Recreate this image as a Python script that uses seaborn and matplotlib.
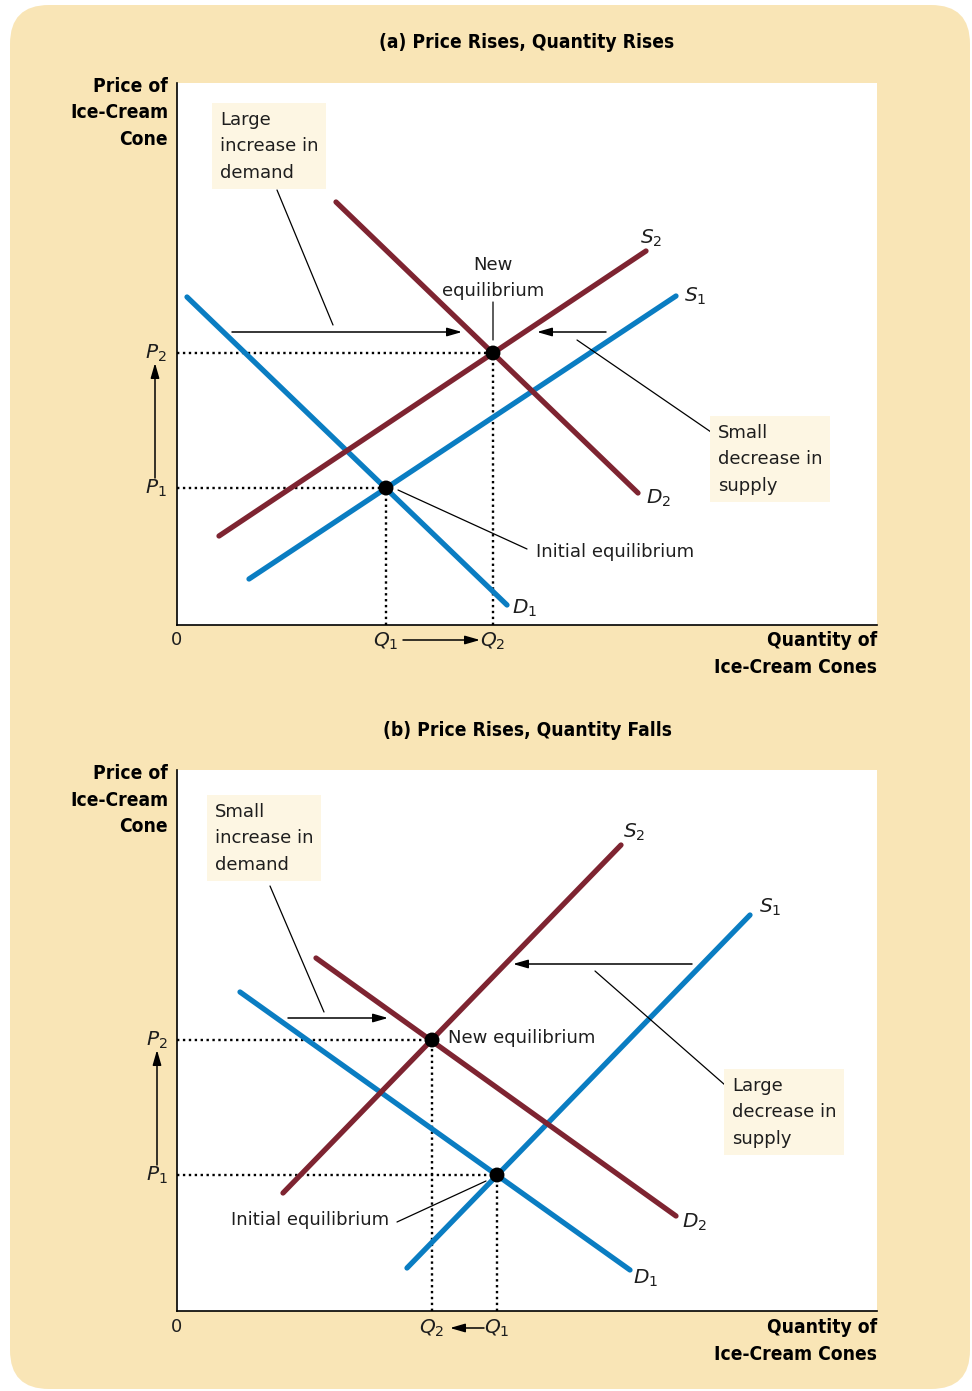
import numpy as np
import pandas as pd
import seaborn as sns
import matplotlib.pyplot as plt
from matplotlib.patches import FancyBboxPatch

sns.set_style("white")
plt.rcParams["font.family"] = ["DejaVu Sans"]
plt.rcParams["mathtext.fontset"] = "dejavusans"
plt.rcParams["text.color"] = "#1E1E1E"

W, H = 972, 1391
BLUE = "#0A7DC2"
RED = "#7E2431"
CREAM = "#F9E5B6"
BOX = "#FDF6E3"

# ----- panel (a): price rises, quantity rises -----
a_curves = ["D1", "S1", "D2", "S2"]
a_q_start = [10, 72, 159, 42]
a_p_start = [328, 46, 423, 89]
a_q_end = [330, 499, 461, 469]
a_p_end = [20, 329, 132, 374]
a_eq_q = [209, 316]     # Q1, Q2
a_eq_p = [137, 272]     # P1, P2

# ----- panel (b): price rises, quantity falls -----
b_curves = ["D1", "S1", "D2", "S2"]
b_q_start = [63, 230, 139, 106]
b_p_start = [319, 43, 353, 118]
b_q_end = [453, 573, 499, 444]
b_p_end = [41, 396, 95, 466]
b_eq_q = [320, 255]     # Q1, Q2
b_eq_p = [136, 271]     # P1, P2

palette = {"D1": BLUE, "S1": BLUE, "D2": RED, "S2": RED}


def curves_frame(names, q0, p0, q1, p1):
    rows = []
    for n, a, b, c, d in zip(names, q0, p0, q1, p1):
        rows.append({"curve": n, "q": a, "p": b})
        rows.append({"curve": n, "q": c, "p": d})
    return pd.DataFrame(rows)


def fx(x):
    return x / W


def fy(y):
    return 1 - y / H


fig = plt.figure(figsize=(W / 100, H / 100), dpi=100)
fig.patch.set_facecolor("white")
bg = FancyBboxPatch((fx(10), fy(1389)), fx(960), (1384) / H,
                    boxstyle="round,pad=0,rounding_size=0.04",
                    transform=fig.transFigure, facecolor=CREAM,
                    edgecolor="none", zorder=-10, mutation_aspect=W / H)
fig.patches.append(bg)

FS = 13
SYM = 14.5
arrow_style = dict(arrowstyle="-|>,head_length=0.9,head_width=0.26",
                   color="black", lw=1.1, shrinkA=0, shrinkB=0)
line_style = dict(arrowstyle="-", color="black", lw=0.9, shrinkA=0, shrinkB=0)


def setup(ax, ymax):
    ax.set_xlim(0, 700)
    ax.set_ylim(0, ymax)
    ax.set_facecolor("white")
    for s in ["top", "right"]:
        ax.spines[s].set_visible(False)
    for s in ["left", "bottom"]:
        ax.spines[s].set_color("black")
        ax.spines[s].set_linewidth(1.2)
    ax.set_xticks([])
    ax.set_yticks([])
    ax.set_xlabel("")
    ax.set_ylabel("")


def draw_panel(ax, df, eq_q, eq_p):
    sns.lineplot(data=df, x="q", y="p", hue="curve", palette=palette,
                 linewidth=3.8, legend=False, ax=ax, estimator=None,
                 solid_capstyle="round", zorder=3)
    for q, p in zip(eq_q, eq_p):
        ax.plot([0, q], [p, p], color="black", lw=1.7,
                linestyle=(0, (1, 1.5)), zorder=2)
        ax.plot([q, q], [0, p], color="black", lw=1.7,
                linestyle=(0, (1, 1.5)), zorder=2)
    sns.scatterplot(x=eq_q, y=eq_p, color="black", s=115, ax=ax,
                    zorder=5, edgecolor="none")


def lead(ax, a, b):
    ax.annotate("", xy=b, xytext=a, arrowprops=line_style,
                annotation_clip=False)


def arr(ax, a, b):
    ax.annotate("", xy=b, xytext=a, arrowprops=arrow_style,
                annotation_clip=False)


def label(ax, x, y, s, fs=FS, **kw):
    ax.text(x, y, s, fontsize=fs, clip_on=False, **kw)


def sym(ax, x, y, s):
    label(ax, x, y, s, fs=SYM, ha="center", va="center")


def boxed(ax, x, y, s):
    ax.text(x, y, s, fontsize=FS, ha="left", va="top", linespacing=1.6,
            bbox=dict(boxstyle="square,pad=0.42", facecolor=BOX,
                      edgecolor="none"), zorder=6)


# ================= panel (a) =================
ax1 = fig.add_axes([fx(177), fy(625), 700 / W, 542 / H])
draw_panel(ax1, curves_frame(a_curves, a_q_start, a_p_start, a_q_end, a_p_end),
           a_eq_q, a_eq_p)
setup(ax1, 542)

sym(ax1, 474, 387, r"$S_2$")
sym(ax1, 518, 329, r"$S_1$")
sym(ax1, 481, 127, r"$D_2$")
sym(ax1, 348, 17, r"$D_1$")
label(ax1, 316, 347, "New\nequilibrium", ha="center", va="center",
      linespacing=1.6)
lead(ax1, (316, 323), (316, 285))
label(ax1, 359, 73, "Initial equilibrium", ha="left", va="center")
lead(ax1, (221, 135), (350, 76))
boxed(ax1, 43, 514, "Large\nincrease in\ndemand")
lead(ax1, (100, 435), (156, 300))
arr(ax1, (55, 293), (285, 293))
arr(ax1, (429, 293), (360, 293))
boxed(ax1, 541, 201, "Small\ndecrease in\nsupply")
lead(ax1, (400, 285), (534, 193))
sym(ax1, -21, a_eq_p[1], r"$P_2$")
sym(ax1, -21, a_eq_p[0], r"$P_1$")
arr(ax1, (-22, a_eq_p[0] + 10), (-22, a_eq_p[1] - 10))
sym(ax1, a_eq_q[0], -16, r"$Q_1$")
sym(ax1, a_eq_q[1], -16, r"$Q_2$")
arr(ax1, (a_eq_q[0] + 17, -15), (a_eq_q[1] - 13, -15))
label(ax1, -1, -15, "0", ha="center", va="center")

# ================= panel (b) =================
ax2 = fig.add_axes([fx(177), fy(1311), 700 / W, 541 / H])
draw_panel(ax2, curves_frame(b_curves, b_q_start, b_p_start, b_q_end, b_p_end),
           b_eq_q, b_eq_p)
setup(ax2, 541)

sym(ax2, 457, 479, r"$S_2$")
sym(ax2, 593, 404, r"$S_1$")
sym(ax2, 517, 89, r"$D_2$")
sym(ax2, 469, 33, r"$D_1$")
label(ax2, 271, 273, "New equilibrium", ha="left", va="center")
label(ax2, 212, 91, "Initial equilibrium", ha="right", va="center")
lead(ax2, (220, 89), (309, 130))
boxed(ax2, 38, 508, "Small\nincrease in\ndemand")
lead(ax2, (93, 425), (147, 299))
arr(ax2, (111, 293), (211, 293))
arr(ax2, (515, 347), (336, 347))
boxed(ax2, 555, 234, "Large\ndecrease in\nsupply")
lead(ax2, (418, 340), (548, 226))
sym(ax2, -20, b_eq_p[1], r"$P_2$")
sym(ax2, -20, b_eq_p[0], r"$P_1$")
arr(ax2, (-20, b_eq_p[0] + 10), (-20, b_eq_p[1] - 10))
sym(ax2, b_eq_q[1], -17, r"$Q_2$")
sym(ax2, b_eq_q[0], -17, r"$Q_1$")
arr(ax2, (b_eq_q[0] - 13, -17), (b_eq_q[1] + 18, -17))
label(ax2, -1, -16, "0", ha="center", va="center")

# titles and axis captions
bold = dict(fontsize=13.8, fontweight="bold", color="black",
            fontstretch="condensed")
fig.text(fx(527), fy(43), "(a) Price Rises, Quantity Rises", ha="center",
         va="center", **bold)
fig.text(fx(527), fy(730), "(b) Price Rises, Quantity Falls", ha="center",
         va="center", **bold)
for top in [77, 764]:
    fig.text(fx(168), fy(top), "Price of\nIce-Cream\nCone", ha="right",
             va="top", linespacing=1.5, **bold)
for top in [631, 1318]:
    fig.text(fx(877), fy(top), "Quantity of\nIce-Cream Cones", ha="right",
             va="top", linespacing=1.5, **bold)

fig.savefig("out.png", dpi=100, facecolor=fig.get_facecolor())
